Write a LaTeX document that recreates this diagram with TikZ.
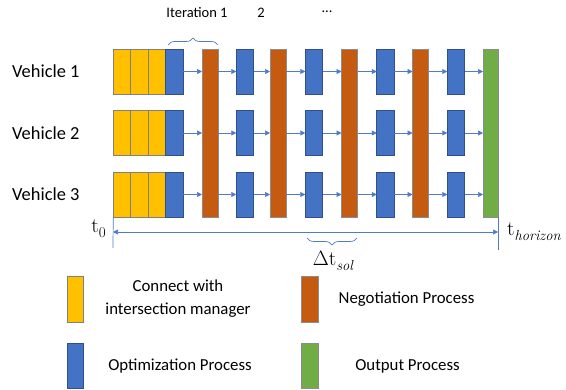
\documentclass[tikz,border=0pt]{standalone}
\usepackage{fontspec}
\setmainfont{Carlito}
\newfontfamily\serfam{Latin Modern Roman}
\usetikzlibrary{arrows.meta,decorations.pathreplacing}
\definecolor{cyel}{HTML}{FFC000}
\definecolor{corg}{HTML}{C55A11}
\definecolor{cblu}{HTML}{4472C4}
\definecolor{cgrn}{HTML}{70AD47}
\definecolor{cln}{HTML}{4F7BC8}
\begin{document}
\begin{tikzpicture}[x=1pt,y=-1pt,
  box/.style={line width=0.6pt, inner sep=0pt, outer sep=0pt, minimum height=45pt},
  ybox/.style={box, fill=cyel, draw=black!50, minimum width=17.5pt},
  bbox/.style={box, fill=cblu, draw=cblu!70!black, minimum width=17.5pt},
  obox/.style={box, fill=corg, draw=black!45, minimum width=16pt, minimum height=168pt},
  gbox/.style={box, fill=cgrn, draw=black!45, minimum width=15pt, minimum height=168pt},
  conn/.style={draw=cln, line width=0.7pt, -{Triangle[length=5pt,width=5pt]}},
  tline/.style={draw=cln, line width=0.7pt},
  brc/.style={draw=cln, line width=0.7pt, decorate, decoration={brace, amplitude=7pt}},
  lab/.style={font=\fontsize{18.4}{22}\selectfont, inner sep=0pt},
  leg/.style={font=\fontsize{16.8}{23}\selectfont, inner sep=0pt, align=center},
  top/.style={font=\fontsize{14.5}{17}\selectfont, inner sep=0pt},
  mth/.style={inner sep=0pt}]
\useasboundingbox (0,0) rectangle (566,390);

% process columns spanning all vehicles
\node[obox] (o1) at (210,133) {};
\node[obox] (o2) at (278,133) {};
\node[obox] (o3) at (349.5,133) {};
\node[obox] (o4) at (420.5,133) {};
\node[gbox] (g) at (490.5,133) {};

\foreach \row/\yy in {1/71.5,2/133,3/194.5}{
  \node[lab, anchor=west] (v\row) at (12,\yy) {Vehicle \row};
  \node[ybox] (y\row-a) at (122,\yy) {};
  \node[ybox] (y\row-b) at (139.5,\yy) {};
  \node[ybox] (y\row-c) at (157,\yy) {};
  \node[bbox] (b\row-1) at (174.5,\yy) {};
  \node[bbox] (b\row-2) at (245,\yy) {};
  \node[bbox] (b\row-3) at (314,\yy) {};
  \node[bbox] (b\row-4) at (385.5,\yy) {};
  \node[bbox] (b\row-5) at (456,\yy) {};
  \foreach \a/\o/\b in {1/1/2,2/2/3,3/3/4,4/4/5}{
    \draw[conn] (b\row-\a.east) -- (o\o.west |- b\row-\a.east);
    \draw[conn] (o\o.east |- b\row-\b.west) -- (b\row-\b.west);
  }
  \draw[conn] (b\row-5.east) -- (g.west |- b\row-5.east);
}

% iteration labels
\node[top] (it1) at (197,13) {Iteration 1};
\node[top] (it2) at (261,13) {2};
\node[top] (it3) at (327,12) {...};
\coordinate (bra) at (168,45);
\coordinate (brb) at (218,45);
\draw[brc] (bra) -- (brb);

% timeline
\coordinate (tl) at (113,232);
\coordinate (tr) at (498,232);
\coordinate (vlb) at (113,248);
\coordinate (vrb) at (498,250);
\draw[tline] (y3-a.south west) -- (vlb);
\draw[tline] (g.south east) -- (vrb);
\draw[draw=cln, line width=0.7pt, {Triangle[length=5pt,width=5pt]}-{Triangle[length=5pt,width=5pt]}] (tl) -- (tr);
\node[mth, anchor=base east] (t0) at (106,233) {{\serfam\fontsize{21}{24}\selectfont t}\raisebox{-4.5pt}{\serfam\fontsize{15}{16}\selectfont 0}};
\node[mth, anchor=base west] (th) at (507,236) {{\serfam\fontsize{21}{24}\selectfont t}\raisebox{-4.5pt}{\serfam\itshape\fontsize{14.5}{16}\selectfont horizon}};
\coordinate (dba) at (357,238);
\coordinate (dbb) at (307,238);
\draw[brc] (dba) -- (dbb);
\node[mth, anchor=base] (dt) at (333,266) {{\serfam\fontsize{21}{24}\selectfont $\Delta$t}\raisebox{-4.5pt}{\serfam\itshape\fontsize{14.5}{16}\selectfont sol}};

% legend
\node[ybox, minimum width=16pt, minimum height=46pt] (ly) at (75,299) {};
\node[obox, minimum width=17pt, minimum height=46pt] (lo) at (309.5,299) {};
\node[bbox, minimum width=16pt, minimum height=45pt] (lb) at (75,365.5) {};
\node[gbox, minimum width=17pt, minimum height=45pt] (lg) at (309.5,365.5) {};
\node[leg] (ty) at (178,299) {Connect with\\intersection manager};
\node[leg] (to) at (406.5,299) {Negotiation Process};
\node[leg] (tb) at (180,366) {Optimization Process};
\node[leg] (tg) at (407.5,366) {Output Process};
\end{tikzpicture}
\end{document}
